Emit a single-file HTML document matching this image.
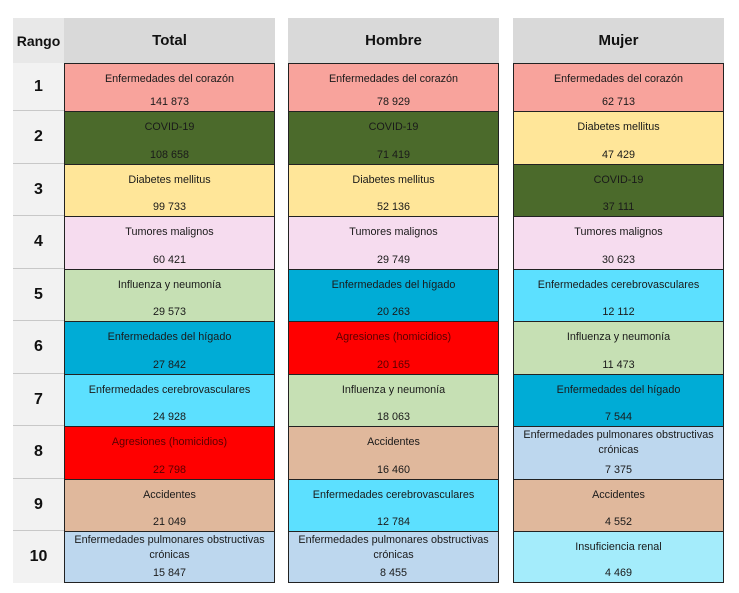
<!DOCTYPE html>
<html><head><meta charset="utf-8"><style>
body{margin:0;width:739px;height:593px;background:#fff;position:relative;font-family:"Liberation Sans",sans-serif;overflow:hidden}
div{position:absolute;box-sizing:border-box}
.h{background:#d9d9d9;top:18px;height:45px;font-weight:bold;font-size:15px;color:#111;display:flex;align-items:center;justify-content:center}
.r{left:13px;width:51px;background:#f2f2f2;border-bottom:1px solid #c8c8c8;font-weight:bold;font-size:16px;color:#111;display:flex;align-items:center;justify-content:center}
.c{width:211px;border:1px solid #222;font-size:10.8px;color:#1a1a1a;text-align:center}
.c .n{position:absolute;left:0;right:0;top:9px;line-height:13px}
.c .v{position:absolute;left:0;right:0;bottom:2px;line-height:13px}
.c .n2{top:1px;line-height:15px}
.t{left:64px}.m{left:288px}.w{left:513px}
.r1{top:63px;height:49px}.r2{top:111px;height:54px}.r3{top:164px;height:53px}.r4{top:216px;height:54px}.r5{top:269px;height:53px}
.r6{top:321px;height:54px}.r7{top:374px;height:53px}.r8{top:426px;height:54px}.r9{top:479px;height:53px}.r10{top:531px;height:52px}
.cor{background:#f8a39c}.cov{background:#4b6a2b}.dia{background:#ffe699}.tum{background:#f6dcef}.inf{background:#c6e0b4}
.hig{background:#00acd6}.agr{background:#ff0000;color:#5a0000}.cer{background:#5ce0ff}.acc{background:#e0b89c}.pul{background:#bdd7ee}.ren{background:#a4ecfb}
</style></head><body>
<div class="h" style="left:13px;width:51px;font-size:14px;background:#e8e8e8">Rango</div>
<div class="h" style="left:64px;width:211px">Total</div>
<div class="h" style="left:288px;width:211px">Hombre</div>
<div class="h" style="left:513px;width:211px">Mujer</div>

<div class="r" style="top:63px;height:48px">1</div>
<div class="r" style="top:111px;height:53px">2</div>
<div class="r" style="top:164px;height:52px">3</div>
<div class="r" style="top:216px;height:53px">4</div>
<div class="r" style="top:269px;height:52px">5</div>
<div class="r" style="top:321px;height:53px">6</div>
<div class="r" style="top:374px;height:52px">7</div>
<div class="r" style="top:426px;height:53px">8</div>
<div class="r" style="top:479px;height:52px">9</div>
<div class="r" style="top:531px;height:52px;border:none">10</div>

<div class="c t r1 cor"><div class="n">Enfermedades del corazón</div><div class="v">141 873</div></div>
<div class="c t r2 cov"><div class="n">COVID-19</div><div class="v">108 658</div></div>
<div class="c t r3 dia"><div class="n">Diabetes mellitus</div><div class="v">99 733</div></div>
<div class="c t r4 tum"><div class="n">Tumores malignos</div><div class="v">60 421</div></div>
<div class="c t r5 inf"><div class="n">Influenza y neumonía</div><div class="v">29 573</div></div>
<div class="c t r6 hig"><div class="n">Enfermedades del hígado</div><div class="v">27 842</div></div>
<div class="c t r7 cer"><div class="n">Enfermedades cerebrovasculares</div><div class="v">24 928</div></div>
<div class="c t r8 agr"><div class="n">Agresiones (homicidios)</div><div class="v">22 798</div></div>
<div class="c t r9 acc"><div class="n">Accidentes</div><div class="v">21 049</div></div>
<div class="c t r10 pul"><div class="n n2">Enfermedades pulmonares obstructivas crónicas</div><div class="v">15 847</div></div>

<div class="c m r1 cor"><div class="n">Enfermedades del corazón</div><div class="v">78 929</div></div>
<div class="c m r2 cov"><div class="n">COVID-19</div><div class="v">71 419</div></div>
<div class="c m r3 dia"><div class="n">Diabetes mellitus</div><div class="v">52 136</div></div>
<div class="c m r4 tum"><div class="n">Tumores malignos</div><div class="v">29 749</div></div>
<div class="c m r5 hig"><div class="n">Enfermedades del hígado</div><div class="v">20 263</div></div>
<div class="c m r6 agr"><div class="n">Agresiones (homicidios)</div><div class="v">20 165</div></div>
<div class="c m r7 inf"><div class="n">Influenza y neumonía</div><div class="v">18 063</div></div>
<div class="c m r8 acc"><div class="n">Accidentes</div><div class="v">16 460</div></div>
<div class="c m r9 cer"><div class="n">Enfermedades cerebrovasculares</div><div class="v">12 784</div></div>
<div class="c m r10 pul"><div class="n n2">Enfermedades pulmonares obstructivas crónicas</div><div class="v">8 455</div></div>

<div class="c w r1 cor"><div class="n">Enfermedades del corazón</div><div class="v">62 713</div></div>
<div class="c w r2 dia"><div class="n">Diabetes mellitus</div><div class="v">47 429</div></div>
<div class="c w r3 cov"><div class="n">COVID-19</div><div class="v">37 111</div></div>
<div class="c w r4 tum"><div class="n">Tumores malignos</div><div class="v">30 623</div></div>
<div class="c w r5 cer"><div class="n">Enfermedades cerebrovasculares</div><div class="v">12 112</div></div>
<div class="c w r6 inf"><div class="n">Influenza y neumonía</div><div class="v">11 473</div></div>
<div class="c w r7 hig"><div class="n">Enfermedades del hígado</div><div class="v">7 544</div></div>
<div class="c w r8 pul"><div class="n n2">Enfermedades pulmonares obstructivas crónicas</div><div class="v">7 375</div></div>
<div class="c w r9 acc"><div class="n">Accidentes</div><div class="v">4 552</div></div>
<div class="c w r10 ren"><div class="n">Insuficiencia renal</div><div class="v">4 469</div></div>
</body></html>
